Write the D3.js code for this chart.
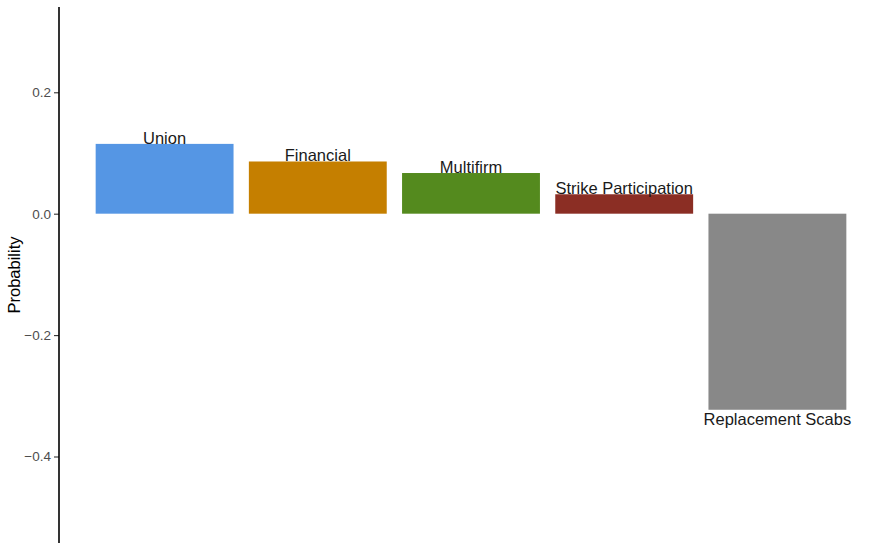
<!DOCTYPE html>
<html>
<head>
<meta charset="utf-8">
<script src="https://cdn.jsdelivr.net/npm/d3@7"></script>
<style>
  body { margin: 0; background: #fff; }
  text { font-family: "Liberation Sans", Arial, sans-serif; }
</style>
</head>
<body>
<script>
var categories = ["Union", "Financial", "Multifirm", "Strike Participation", "Replacement Scabs"];
var values = [0.115, 0.086, 0.067, 0.032, -0.323];
var colors = ["#5596e4", "#c57f00", "#548a1e", "#8b2e24", "#888888"];
var yTicks = [-0.4, -0.2, 0.0, 0.2];

var width = 880, height = 543;

var svg = d3.select("body").append("svg")
    .attr("width", width)
    .attr("height", height);

var x = d3.scaleBand()
    .domain(categories)
    .range([88, 854])
    .paddingInner(0.1)
    .paddingOuter(0.05);

var y = d3.scaleLinear()
    .domain([-0.5425, 0.3405])
    .range([543, 7]);

// bars
svg.selectAll(".bar")
    .data(values)
    .enter()
    .append("rect")
    .attr("class", "bar")
    .attr("x", function(d, i) { return x(categories[i]); })
    .attr("width", x.bandwidth())
    .attr("y", function(d) { return y(Math.max(0, d)); })
    .attr("height", function(d) { return Math.abs(y(d) - y(0)); })
    .attr("fill", function(d, i) { return colors[i]; });

// labels: above positive bars, below negative ones
svg.selectAll(".lbl")
    .data(values)
    .enter()
    .append("text")
    .attr("class", "lbl")
    .attr("x", function(d, i) { return x(categories[i]) + x.bandwidth() / 2; })
    .attr("y", function(d) { return d >= 0 ? y(d) : y(d) + 15; })
    .attr("text-anchor", "middle")
    .attr("font-size", "16.5px")
    .attr("fill", "#1a1a1a")
    .text(function(d, i) { return categories[i]; });

// y axis
var yAxis = d3.axisLeft(y)
    .tickValues(yTicks)
    .tickSize(5)
    .tickPadding(3)
    .tickFormat(function(d) { return d3.format(".1f")(d).replace("-", "\u2212"); });

var gy = svg.append("g")
    .attr("transform", "translate(59,0)")
    .call(yAxis);

gy.select(".domain").remove();
gy.append("line")
    .attr("x1", 0).attr("x2", 0)
    .attr("y1", 7).attr("y2", 543)
    .attr("stroke", "#000")
    .attr("stroke-width", 1.6);
gy.selectAll(".tick line").attr("stroke", "#333").attr("stroke-width", 1.1);
gy.selectAll(".tick text")
    .attr("fill", "#4d4d4d")
    .attr("font-size", "13.5px")
    .style("font-family", "'Liberation Sans', Arial, sans-serif");

svg.append("text")
    .attr("transform", "translate(20,275) rotate(-90)")
    .attr("text-anchor", "middle")
    .attr("font-size", "16.5px")
    .attr("fill", "#000")
    .text("Probability");
</script>
</body>
</html>
